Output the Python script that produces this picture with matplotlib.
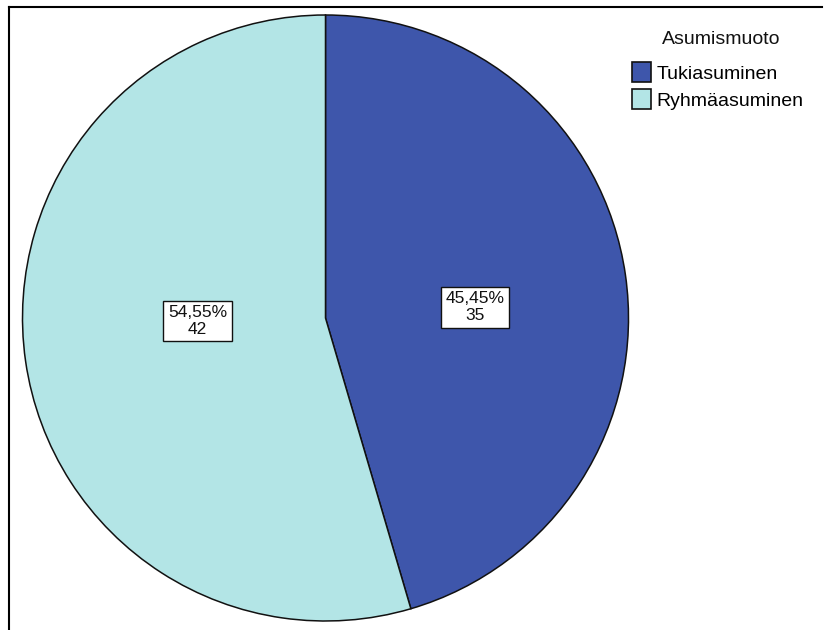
import matplotlib.pyplot as plt
from matplotlib.lines import Line2D
from matplotlib.patches import Patch

plt.rcParams['font.family'] = ['Liberation Sans', 'DejaVu Sans']

# Asumismuoto-jakauma
ryhmat = ['Tukiasuminen', 'Ryhmäasuminen']
lukumaarat = [35, 42]
varit = ['#3E56AB', '#B3E5E6']

fig = plt.figure(figsize=(8.26, 6.3), dpi=100)
W, H = 826, 630

# kehys vasemmalle ja ylös
fig.add_artist(Line2D([9 / W, 9 / W], [0, 1 - 7 / H], transform=fig.transFigure, color='black', lw=1.5))
fig.add_artist(Line2D([9 / W, 822 / W], [1 - 7 / H, 1 - 7 / H], transform=fig.transFigure, color='black', lw=1.5))

# piirakka keskipiste ~ (325, 318), säde ~ 303 px
cx, cy, r = 325.5, 318, 303
ax = fig.add_axes([(cx - r) / W, 1 - (cy + r) / H, 2 * r / W, 2 * r / H])

yht = sum(lukumaarat)


def muotoile(pct):
    n = int(round(pct * yht / 100))
    return ('%.2f' % pct).replace('.', ',') + '%\n' + str(n)


wedges, texts, autotexts = ax.pie(
    lukumaarat, colors=varit, startangle=90, counterclock=False,
    autopct=muotoile, pctdistance=0.46,
    wedgeprops=dict(edgecolor='#111111', linewidth=1.1),
    textprops=dict(fontsize=12.5, color='#111111', linespacing=1.1))
# SPSS-tyyliset selitelaatikot
autotexts[0].set_position((0.493, 0.036))
autotexts[1].set_position((-0.422, -0.01))
for t in autotexts:
    t.set_bbox(dict(boxstyle='square,pad=0.28', facecolor='white', edgecolor='#111111', linewidth=1.0))
ax.set_xlim(-1, 1)
ax.set_ylim(-1, 1)
ax.set_aspect('equal')
ax.axis('off')

# selite: otsikko erikseen, jotta väli vastaa SPSS:n asettelua
fig.text(721 / W, 1 - 40 / H, 'Asumismuoto', ha='center', va='center', fontsize=14, color='#111111')
kahvat = [Patch(facecolor=c, edgecolor='#111111', linewidth=1.2) for c in varit]
fig.legend(kahvat, ryhmat, loc='upper left',
           bbox_to_anchor=(632 / W, 1 - 62 / H), frameon=False,
           fontsize=14, handlelength=1.0, handleheight=1.2,
           handletextpad=0.25, labelspacing=0.35, borderaxespad=0, borderpad=0)

fig.savefig('out.png', dpi=100)
